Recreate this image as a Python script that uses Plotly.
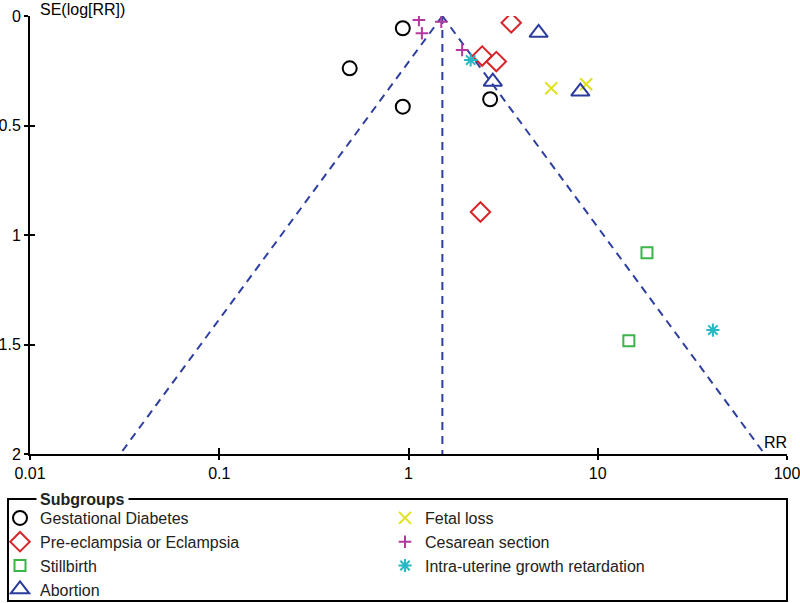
import numpy as np
import plotly.graph_objects as go

# ---- data ----
gd_rr = [0.933, 0.489, 0.933, 2.70]
gd_se = [0.056, 0.239, 0.414, 0.380]
pe_rr = [3.49, 2.45, 2.91, 2.40]
pe_se = [0.031, 0.183, 0.208, 0.895]
sb_rr = [18.2, 14.6]
sb_se = [1.081, 1.483]
ab_rr = [4.87, 2.79, 8.09]
ab_se = [0.077, 0.300, 0.345]
fl_rr = [5.68, 8.69]
fl_se = [0.330, 0.312]
cs_rr = [1.135, 1.177, 1.49, 1.92]
cs_se = [0.018, 0.079, 0.026, 0.155]
iu_rr = [2.13, 40.6]
iu_se = [0.201, 1.434]

pooled_rr = 1.51
se_max = 2.0
x_ticks = [0.01, 0.1, 1, 10, 100]
x_tick_labels = ["0.01", "0.1", "1", "10", "100"]
y_ticks = [0, 0.5, 1, 1.5, 2]
y_tick_labels = ["0", "0.5", "1", "1.5", "2"]

FONT = "Liberation Sans, Arial, Helvetica, sans-serif"
line_col = "#2e3fa0"

fig = go.Figure()

# funnel (pseudo 95% limits)
z = 1.96
lo = pooled_rr * np.exp(-z * se_max)
hi = pooled_rr * np.exp(z * se_max)
dash = dict(color=line_col, width=2, dash="8px,6px")
for xs, ys in [([pooled_rr, lo], [0, se_max]),
               ([pooled_rr, hi], [0, se_max]),
               ([pooled_rr, pooled_rr], [0, se_max])]:
    fig.add_trace(go.Scatter(x=xs, y=ys, mode="lines", line=dash,
                             showlegend=False, hoverinfo="skip"))

def pts(name, xs, ys, symbol, color, size):
    return go.Scatter(x=xs, y=ys, mode="markers", name=name,
                      marker=dict(symbol=symbol, size=size, color=color,
                                  line=dict(color=color, width=2)))

# order so that a 2-column horizontal legend reads column-wise
fig.add_trace(pts("Gestational Diabetes", gd_rr, gd_se, "circle-open", "#000000", 14))
fig.add_trace(pts("Fetal loss", fl_rr, fl_se, "x-thin-open", "#e0e020", 12))
fig.add_trace(pts("Pre-eclampsia or Eclampsia", pe_rr, pe_se, "diamond-open", "#d7262b", 15))
fig.add_trace(pts("Cesarean section", cs_rr, cs_se, "cross-thin-open", "#b23a9e", 9))
fig.add_trace(pts("Stillbirth", sb_rr, sb_se, "square-open", "#3bb54a", 11))
fig.add_trace(pts("Intra-uterine growth retardation", iu_rr, iu_se, "asterisk-open", "#26b8c4", 11))
fig.add_trace(pts("Abortion", ab_rr, ab_se, "triangle-up-open", "#2b3b9c", 16))

W, H = 800, 603
L, R, T, B = 30, 13, 16, 149
pw, ph = W - L - R, H - T - B

def px_x(p):
    return (p - L) / pw

def px_y(p):
    return (H - B - p) / ph

axis_common = dict(showgrid=False, zeroline=False, linecolor="black", linewidth=2,
                   tickcolor="black", tickwidth=2, ticklabeloverflow="allow",
                   tickfont=dict(family=FONT, size=16, color="black"))

fig.update_layout(
    width=W, height=H,
    margin=dict(l=L, r=R, t=T, b=B, autoexpand=False),
    paper_bgcolor="white", plot_bgcolor="white",
    font=dict(family=FONT, size=16, color="#222222"),
    xaxis=dict(type="log", range=[-2, 2], tickvals=x_ticks, ticktext=x_tick_labels,
               ticks="outside", ticklen=4, showline=True, mirror=False, **axis_common),
    yaxis=dict(range=[se_max, 0], tickvals=y_ticks, ticktext=y_tick_labels,
               ticks="outside", ticklen=4, showline=True, mirror=False, **axis_common),
    xaxis2=dict(type="log", range=[-2, 2], overlaying="x", anchor="y", side="bottom",
                tickvals=x_ticks, showticklabels=False, ticks="inside", ticklen=6,
                tickcolor="black", tickwidth=2, showgrid=False, zeroline=False, showline=False),
    yaxis2=dict(range=[se_max, 0], overlaying="y", anchor="x", side="left",
                tickvals=y_ticks, showticklabels=False, ticks="inside", ticklen=5,
                tickcolor="black", tickwidth=2, showgrid=False, zeroline=False, showline=False),
    showlegend=True,
    legend=dict(orientation="h", x=px_x(0), y=px_y(501), xanchor="left", yanchor="top",
                entrywidth=340, entrywidthmode="pixels", traceorder="normal",
                bgcolor="rgba(0,0,0,0)", borderwidth=0,
                font=dict(family=FONT, size=16, color="#222222")),
)

# dummy invisible traces so overlay axes render
fig.add_trace(go.Scatter(x=[1], y=[1], xaxis="x2", yaxis="y2", mode="markers",
                         marker=dict(opacity=0), showlegend=False, hoverinfo="skip"))

# legend frame
fig.add_shape(type="rect", xref="paper", yref="paper",
              x0=px_x(8), x1=px_x(787), y0=px_y(499), y1=px_y(601),
              line=dict(color="black", width=2), fillcolor="rgba(0,0,0,0)")

fig.add_annotation(xref="paper", yref="paper", x=px_x(36), y=px_y(499),
                   xanchor="left", yanchor="middle", showarrow=False,
                   text="<b>Subgroups</b>", bgcolor="white", borderpad=3,
                   font=dict(family=FONT, size=16, color="#222222"))

# axis titles
fig.add_annotation(xref="paper", yref="paper", x=px_x(38), y=px_y(9),
                   xanchor="left", yanchor="middle", showarrow=False,
                   text="SE(log[RR])", font=dict(family=FONT, size=16, color="black"))
fig.add_annotation(xref="paper", yref="paper", x=px_x(789), y=px_y(442),
                   xanchor="right", yanchor="middle", showarrow=False,
                   text="RR", font=dict(family=FONT, size=16, color="black"))

fig.write_html("out.html", config={"displayModeBar": False},
               post_script="document.body.style.margin='0';document.body.style.padding='0';")
